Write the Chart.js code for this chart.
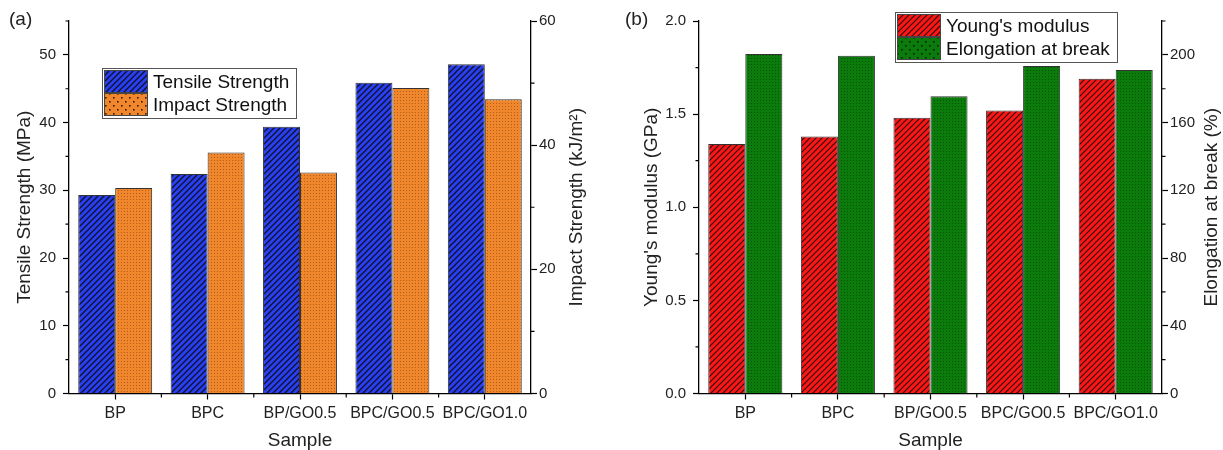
<!DOCTYPE html>
<html>
<head>
<meta charset="utf-8">
<script src="https://cdn.jsdelivr.net/npm/chart.js@4.4.0/dist/chart.umd.min.js"></script>
<style>
  body { margin: 0; background: #fff; }
  #wrap { position: relative; width: 1223px; height: 450px; }
  canvas { position: absolute; top: 0; }
</style>
</head>
<body>
<div id="wrap">
  <canvas id="chartA" width="612" height="450" style="left:0"></canvas>
  <canvas id="chartB" width="611" height="450" style="left:612px"></canvas>
</div>
<script>
// Muestras
const samples = ['BP', 'BPC', 'BP/GO0.5', 'BPC/GO0.5', 'BPC/GO1.0'];

// Panel (a)
const tensileStrength = [29.3, 32.4, 39.4, 45.9, 48.6];      // MPa
const impactStrength = [33.1, 38.8, 35.6, 49.2, 47.4];       // kJ/m2

// Panel (b)
const youngsModulus = [1.34, 1.38, 1.48, 1.52, 1.69];        // GPa
const elongationBreak = [200.5, 199.5, 175.5, 193.4, 191.1]; // %

// Ticks menores
const minorA = { y: [5, 15, 25, 35, 45, 55], y1: [10, 30, 50], x: [0.5, 1.5, 2.5, 3.5] };
const minorB = { y: [0.25, 0.75, 1.25, 1.75], y1: [20, 60, 100, 140, 180, 220], x: [0.5, 1.5, 2.5, 3.5] };

const FONT = "Arial, 'Liberation Sans', sans-serif";
Chart.defaults.font.family = FONT;
Chart.defaults.color = '#222';

// Función para crear un patrón de rayas diagonales
function hatch(ctx, base, line, step, width) {
    const c = document.createElement('canvas');
    c.width = step; c.height = step;
    const g = c.getContext('2d');
    g.fillStyle = base;
    g.fillRect(0, 0, step, step);
    g.strokeStyle = line;
    g.lineWidth = width;
    g.beginPath();
    g.moveTo(-1, step + 1); g.lineTo(step + 1, -1);
    g.moveTo(-1, 1); g.lineTo(1, -1);
    g.moveTo(step - 1, step + 1); g.lineTo(step + 1, step - 1);
    g.stroke();
    return ctx.createPattern(c, 'repeat');
}

// Función para crear un patrón de puntos
function dots(ctx, base, dot, step, size, stagger) {
    const c = document.createElement('canvas');
    c.width = step; c.height = step;
    const g = c.getContext('2d');
    g.fillStyle = base;
    g.fillRect(0, 0, step, step);
    g.fillStyle = dot;
    g.fillRect(1, 1, size, size);
    if (stagger) g.fillRect(1 + step / 2, 1 + step / 2, size, size);
    return ctx.createPattern(c, 'repeat');
}

// Plugin: ticks menores, títulos derechos, leyenda y etiqueta del panel
const extras = {
    id: 'extras',
    afterDraw(chart, args, o) {
        const ctx = chart.ctx;
        const area = chart.chartArea;
        ctx.save();
        ctx.strokeStyle = '#000';
        ctx.lineWidth = 1.2;
        ctx.beginPath();
        o.minor.y.forEach(v => {
            const p = chart.scales.y.getPixelForValue(v);
            ctx.moveTo(area.left, p); ctx.lineTo(area.left - 3.5, p);
        });
        o.minor.y1.forEach(v => {
            const p = chart.scales.y1.getPixelForValue(v);
            ctx.moveTo(area.right, p); ctx.lineTo(area.right + 3.5, p);
        });
        o.minor.x.forEach(v => {
            const p = chart.scales.x.getPixelForValue(v);
            ctx.moveTo(p, area.bottom); ctx.lineTo(p, area.bottom + 4);
        });
        ctx.stroke();

        // título del eje derecho (de abajo hacia arriba)
        ctx.fillStyle = '#222';
        ctx.font = '19px ' + FONT;
        ctx.textAlign = 'center';
        ctx.textBaseline = 'middle';
        ctx.save();
        ctx.translate(o.rightTitleX, (area.top + area.bottom) / 2);
        ctx.rotate(-Math.PI / 2);
        ctx.fillText(o.rightTitle, 0, 0);
        ctx.restore();

        // etiqueta del panel
        ctx.textAlign = 'left';
        ctx.fillText(o.panel, o.panelX, 20);

        // leyenda
        const L = o.legend;
        ctx.fillStyle = '#fff';
        ctx.fillRect(L.x, L.y, L.w, L.h);
        ctx.strokeStyle = '#555';
        ctx.lineWidth = 1;
        ctx.strokeRect(L.x + 0.5, L.y + 0.5, L.w, L.h);
        const rowH = (L.h - 4) / 2;
        chart.data.datasets.forEach((ds, i) => {
            const y0 = L.y + 2 + i * rowH;
            ctx.fillStyle = L.swatches[i];
            ctx.fillRect(L.x + 2, y0, 43, rowH - 1);
            ctx.strokeStyle = '#444';
            ctx.strokeRect(L.x + 2.5, y0 + 0.5, 43, rowH - 1);
            ctx.fillStyle = '#111';
            ctx.fillText(ds.label, L.x + 51, y0 + rowH / 2 + 1);
        });
        ctx.restore();
    }
};

function axisY(opts) {
    return {
        position: opts.position,
        min: 0,
        max: opts.max,
        ticks: {
            stepSize: opts.step,
            includeBounds: false,
            padding: opts.position === 'left' ? 7 : 2,
            font: { size: 15 },
            callback: opts.fmt || (v => v)
        },
        grid: { drawOnChartArea: false, tickLength: 6, tickColor: '#000', tickWidth: 1.2 },
        border: { color: '#000', width: 1.3 },
        title: opts.title ? {
            display: true, text: opts.title, color: '#222',
            font: { size: 19, lineHeight: 1 },
            padding: { top: opts.titlePad, bottom: 0 }
        } : { display: false },
        afterFit: s => { s.width = opts.width; }
    };
}

function axisX() {
    return {
        offset: true,
        ticks: { font: { size: 16 }, padding: 4, maxRotation: 0, autoSkip: false },
        grid: { offset: false, drawOnChartArea: false, tickLength: 6, tickColor: '#000', tickWidth: 1.2 },
        border: { color: '#000', width: 1.3 },
        title: {
            display: true, text: 'Sample', color: '#222',
            font: { size: 19, lineHeight: 1 },
            padding: { top: 0, bottom: 0 }
        },
        afterFit: s => { s.height = 56.5; }
    };
}

function barSet(label, data, axis, fill) {
    return {
        label: label, data: data, yAxisID: axis,
        backgroundColor: fill, borderColor: '#333', borderWidth: 1,
        categoryPercentage: 0.8, barPercentage: 1.0
    };
}

// Panel (a)
const ctxA = document.getElementById('chartA').getContext('2d');
const blueFill = hatch(ctxA, '#2840f2', '#10102a', 6, 1.3);
const orangeFill = dots(ctxA, '#f0872d', 'rgba(110,50,5,0.5)', 3, 1, false);
new Chart(ctxA, {
    type: 'bar',
    data: {
        labels: samples,
        datasets: [
            barSet('Tensile Strength', tensileStrength, 'y', blueFill),
            barSet('Impact Strength', impactStrength, 'y1', orangeFill)
        ]
    },
    options: {
        responsive: false,
        animation: false,
        layout: { padding: { top: 21, left: 0, right: 0, bottom: 0 } },
        plugins: {
            legend: { display: false },
            tooltip: { enabled: false },
            extras: {
                minor: minorA,
                rightTitle: 'Impact Strength (kJ/m²)',
                rightTitleX: 577,
                panel: '(a)', panelX: 9,
                legend: {
                    x: 102, y: 68, w: 194, h: 50,
                    swatches: [blueFill, dots(ctxA, '#f0872d', '#3a1a00', 8, 1.6, true)]
                }
            }
        },
        scales: {
            x: axisX(),
            y: axisY({ position: 'left', max: 55, step: 10, width: 69, title: 'Tensile Strength (MPa)', titlePad: 15.5 }),
            y1: axisY({ position: 'right', max: 60, step: 20, width: 81 })
        }
    },
    plugins: [extras]
});

// Panel (b)
const ctxB = document.getElementById('chartB').getContext('2d');
const redFill = hatch(ctxB, '#f81818', '#3a0000', 6, 1.2);
const greenFill = dots(ctxB, '#0b7c0b', 'rgba(0,40,0,0.5)', 3, 1, false);
new Chart(ctxB, {
    type: 'bar',
    data: {
        labels: samples,
        datasets: [
            barSet("Young's modulus", youngsModulus, 'y', redFill),
            barSet('Elongation at break', elongationBreak, 'y1', greenFill)
        ]
    },
    options: {
        responsive: false,
        animation: false,
        layout: { padding: { top: 21, left: 0, right: 0, bottom: 0 } },
        plugins: {
            legend: { display: false },
            tooltip: { enabled: false },
            extras: {
                minor: minorB,
                rightTitle: 'Elongation at break (%)',
                rightTitleX: 600,
                panel: '(b)', panelX: 13,
                legend: {
                    x: 283, y: 12, w: 222, h: 50,
                    swatches: [redFill, dots(ctxB, '#0b7c0b', '#002000', 8, 1.6, true)]
                }
            }
        },
        scales: {
            x: axisX(),
            y: axisY({ position: 'left', max: 2.0, step: 0.5, width: 87, title: "Young's modulus (GPa)", titlePad: 30.5, fmt: v => v.toFixed(1) }),
            y1: axisY({ position: 'right', max: 220, step: 40, width: 61 })
        }
    },
    plugins: [extras]
});
</script>
</body>
</html>
